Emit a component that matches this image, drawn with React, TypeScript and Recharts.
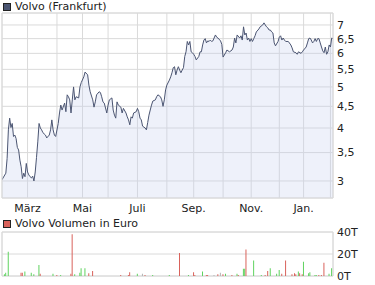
import React from "react";
import {
  ComposedChart,
  Area,
  Bar,
  Cell,
  XAxis,
  YAxis,
  CartesianGrid,
  ReferenceArea,
} from "recharts";

// trading-day index (0 = first day shown) and closing price in EUR
const days = [
  0, 3, 4, 5, 6, 7, 8, 9, 10, 11, 12, 13, 14, 15, 16, 17, 18, 19, 20, 21, 22, 23, 24, 25, 26, 27, 28, 29, 30, 31,
  32, 34, 35, 37, 38, 39, 40, 41, 42, 44, 45, 46, 47, 49, 50, 51, 52, 53, 54, 55, 56, 57, 58, 60, 61, 62, 64, 65,
  67, 68, 69, 71, 72, 73, 74, 76, 77, 78, 79, 80, 82, 83, 84, 86, 87, 88, 89, 90, 91, 93, 94, 95, 97, 98, 99, 100,
  101, 102, 103, 105, 106, 107, 108, 109, 110, 112, 113, 114, 115, 116, 117, 118, 120, 121, 122, 124, 125, 126,
  127, 128, 129, 131, 132, 133, 134, 135, 136, 137, 138, 139, 140, 141, 142, 143, 144, 145, 146, 147, 148, 149,
  150, 151, 152, 154, 155, 156, 157, 158, 159, 160, 161, 162, 163, 164, 165, 167, 168, 169, 171, 172, 173, 175,
  176, 178, 180, 181, 182, 183, 184, 186, 187, 188, 189, 190, 191, 192, 193, 194, 195, 196, 197, 198, 199, 201,
  202, 204, 205, 206, 207, 208, 209, 210, 211, 212, 213, 214, 216, 217, 218, 219, 220, 221, 222, 223, 224, 226,
  227, 228, 230, 231, 232, 234, 235, 236, 238, 239, 240, 241, 242, 243, 244, 245, 246, 247, 248, 249, 250, 251,
  252, 253, 254, 255, 256, 257, 258, 259,
];
const prices = [
  3.02, 3.13, 3.39, 3.96, 4.22, 4.01, 4.1, 3.82, 3.85, 3.78, 3.6, 3.55, 3.36, 3.24, 3.04, 3.13, 3.07, 3.3, 3.15,
  3.1, 3.07, 3.05, 3.08, 3.0, 3.15, 3.41, 3.71, 4.1, 4.0, 3.96, 3.9, 3.85, 3.79, 3.85, 3.96, 4.18, 3.96, 3.85,
  3.82, 4.1, 4.34, 4.53, 4.41, 4.58, 4.37, 4.79, 4.74, 4.66, 4.34, 4.66, 5.0, 4.66, 4.74, 4.71, 5.0, 5.12, 5.28,
  5.42, 5.34, 5.05, 4.87, 4.66, 4.48, 4.61, 4.79, 4.87, 4.85, 4.74, 4.61, 4.58, 4.34, 4.53, 4.66, 4.71, 4.41,
  4.29, 4.22, 4.61, 4.53, 4.48, 4.34, 4.45, 4.34, 4.25, 4.18, 4.07, 4.25, 4.22, 4.34, 4.37, 4.45, 4.37, 4.22,
  4.18, 4.04, 4.0, 3.96, 4.12, 4.29, 4.41, 4.53, 4.63, 4.66, 4.74, 4.79, 4.74, 4.66, 4.5, 4.66, 4.92, 5.05, 5.19,
  5.28, 5.4, 5.55, 5.58, 5.34, 5.48, 5.58, 5.48, 5.4, 5.48, 5.55, 5.9, 6.05, 6.4, 6.28, 6.4, 6.05, 6.02, 5.97,
  5.9, 5.79, 5.9, 6.05, 6.05, 6.28, 6.45, 6.5, 6.35, 6.42, 6.4, 6.45, 6.4, 6.42, 6.63, 6.55, 6.52, 6.42, 6.3,
  5.88, 6.02, 6.11, 6.05, 6.11, 6.21, 6.52, 6.35, 6.63, 6.52, 6.6, 6.45, 6.93, 6.63, 6.7, 6.45, 6.52, 6.4, 6.5,
  6.4, 6.5, 6.6, 6.74, 6.85, 6.93, 7.0, 7.08, 7.0, 6.93, 6.89, 6.81, 6.81, 6.74, 6.7, 6.35, 6.25, 6.4, 6.55, 6.6,
  6.45, 6.52, 6.45, 6.4, 6.4, 6.4, 6.28, 6.18, 6.05, 6.02, 5.97, 6.05, 6.0, 6.05, 6.11, 6.21, 6.35, 6.5, 6.52,
  6.45, 6.35, 6.4, 6.5, 6.4, 6.5, 6.5, 6.35, 6.21, 6.08, 6.02, 6.21, 5.97, 6.05, 6.28, 6.21, 6.52, 6.5,
];

// volume in thousand EUR ("T"), with direction of the day
const volumeDays = [
  2, 3, 5, 15, 16, 18, 23, 25, 29, 30, 40, 43, 46, 54, 55, 57, 61, 62, 65, 68, 71, 93, 99, 100, 106, 110, 112,
  118, 131, 139, 146, 150, 151, 157, 160, 161, 166, 169, 171, 173, 175, 180, 184, 185, 189, 190, 191, 197, 203,
  206, 208, 210, 215, 217, 219, 222, 227, 229, 230, 232, 233, 235, 236, 240, 241, 245, 246, 248, 250, 252, 256,
  258,
];
const volumes = [
  1.5, 3, 22, 3, 3, 4, 3, 1.5, 10, 2, 2, 1, 1, 2, 38, 1.5, 3, 7, 7, 2.5, 4.5, 1, 1, 3.5, 2, 2, 1, 1, 1, 21, 1,
  3.5, 1, 4, 1, 1, 1, 1.5, 3, 1.5, 2, 1, 2, 1, 6.5, 6.5, 24, 14, 1, 1, 4.5, 7, 2, 5.5, 2, 14, 1.5, 2.5, 1.5, 4,
  2.5, 1.5, 13, 2.5, 3.5, 1, 1, 1, 1, 12, 2, 7,
];
const volumeDirs = [
  "up", "up", "up", "down", "down", "up", "up", "up", "up", "down", "up", "down", "up", "down", "down", "up",
  "up", "up", "up", "down", "down", "down", "down", "down", "up", "flat", "down", "up", "up", "down", "up",
  "down", "down", "up", "down", "down", "flat", "down", "flat", "down", "up", "down", "up", "down", "up", "up",
  "down", "up", "up", "down", "down", "up", "up", "up", "down", "down", "down", "down", "down", "up", "down",
  "down", "up", "up", "up", "up", "up", "down", "down", "down", "up", "up",
];

const monthTicks = [20, 43, 63, 83, 106, 129, 150, 173, 195, 217, 236, 257];
const monthLabels = ["März", "", "Mai", "", "Juli", "", "Sep.", "", "Nov.", "", "Jan.", ""];
const priceTicks = [3, 3.5, 4, 4.5, 5, 5.5, 6, 6.5, 7];
const volumeTicks = [0, 20, 40];

const priceRows = days.map((d, i) => ({ day: d, price: prices[i] }));
const volumeRows = volumeDays.map((d, i) => ({ day: d, vol: volumes[i], dir: volumeDirs[i] }));

const FONT = "'DejaVu Sans', sans-serif";
const GRID = "#dadada";
const LINE = "#4b5572";
const dirColor: Record<string, string> = { up: "#5fd35f", down: "#d9625b", flat: "#b4b4b4" };

const DAY_DOMAIN: [number, number] = [0, 259];
const PRICE_DOMAIN: [number, number] = [2.735, 7.47];

const fmtComma = (v: number) => String(v).replace(".", ",");
const fmtMonth = (v: number) => {
  const i = monthTicks.indexOf(v);
  return i >= 0 ? monthLabels[i] : "";
};

const tickStyle = { fontSize: 11, fill: "#222", fontFamily: FONT };

function LegendRow({ color, label, top }: { color: string; label: string; top: number }) {
  return (
    <div
      style={{
        position: "absolute",
        left: 3,
        top,
        display: "flex",
        alignItems: "center",
        fontFamily: FONT,
        fontSize: 11,
        color: "#222",
        lineHeight: "13px",
        whiteSpace: "nowrap",
      }}
    >
      <span
        style={{
          display: "inline-block",
          width: 6,
          height: 6,
          background: color,
          border: "1px solid #222",
          marginRight: 4,
        }}
      />
      {label}
    </div>
  );
}

export default function App() {
  return (
    <div style={{ position: "absolute", left: 0, top: 0, width: 375, height: 285, background: "#fff", overflow: "hidden" }}>
      <LegendRow color={LINE} label="Volvo (Frankfurt)" top={0} />
      <div style={{ position: "absolute", left: 0, top: 0 }}>
        <ComposedChart width={375} height={214} data={priceRows} margin={{ top: 13, right: 0, left: 2, bottom: 0 }}>
          <CartesianGrid stroke={GRID} />
          <XAxis
            dataKey="day"
            type="number"
            domain={DAY_DOMAIN}
            ticks={monthTicks}
            interval={0}
            tickFormatter={fmtMonth}
            axisLine={false}
            tickLine={false}
            tickSize={6}
            tickMargin={0}
            height={16}
            tick={tickStyle}
            allowDataOverflow
          />
          <YAxis
            orientation="right"
            scale="log"
            domain={PRICE_DOMAIN}
            ticks={priceTicks}
            interval={0}
            allowDataOverflow
            width={42}
            axisLine={false}
            tickLine={false}
            tickSize={0}
            tickMargin={4}
            tickFormatter={fmtComma}
            tick={tickStyle}
          />
          <Area
            type="linear"
            dataKey="price"
            stroke={LINE}
            strokeWidth={1}
            fill="#c6d0ee"
            fillOpacity={0.3}
            dot={false}
            activeDot={false}
            isAnimationActive={false}
          />
          <ReferenceArea
            x1={DAY_DOMAIN[0]}
            x2={DAY_DOMAIN[1]}
            y1={PRICE_DOMAIN[0]}
            y2={PRICE_DOMAIN[1]}
            fill="none"
            stroke={GRID}
            strokeOpacity={1}
            ifOverflow="visible"
          />
        </ComposedChart>
      </div>
      <LegendRow color="#d9625b" label="Volvo Volumen in Euro" top={217} />
      <div style={{ position: "absolute", left: 0, top: 226 }}>
        <ComposedChart width={375} height={59} data={volumeRows} margin={{ top: 6, right: 0, left: 2, bottom: 9 }}>
          <CartesianGrid stroke={GRID} />
          <XAxis
            dataKey="day"
            type="number"
            domain={DAY_DOMAIN}
            ticks={monthTicks}
            interval={0}
            tick={false}
            axisLine={false}
            tickLine={false}
            height={0}
            allowDataOverflow
          />
          <YAxis
            orientation="right"
            domain={[0, 40]}
            ticks={volumeTicks}
            interval={0}
            width={42}
            axisLine={false}
            tickLine={false}
            tickSize={0}
            tickMargin={4}
            tickFormatter={(v: number) => `${v}T`}
            tick={tickStyle}
          />
          <Bar dataKey="vol" barSize={1} isAnimationActive={false}>
            {volumeRows.map((r, i) => (
              <Cell key={i} fill={dirColor[r.dir]} />
            ))}
          </Bar>
          <ReferenceArea
            x1={DAY_DOMAIN[0]}
            x2={DAY_DOMAIN[1]}
            y1={0}
            y2={40}
            fill="none"
            stroke={GRID}
            strokeOpacity={1}
            ifOverflow="visible"
          />
        </ComposedChart>
      </div>
    </div>
  );
}
